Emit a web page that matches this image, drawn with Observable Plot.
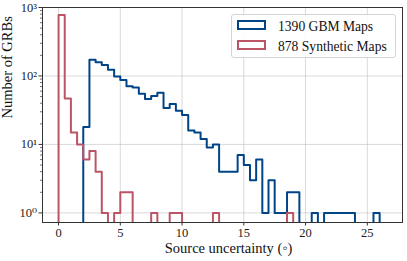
<!DOCTYPE html>
<html><head><meta charset="utf-8">
<script src="https://cdn.jsdelivr.net/npm/d3@7"></script>
<script src="https://cdn.jsdelivr.net/npm/@observablehq/plot@0.6"></script>
<style>
body{margin:0;background:#fff;}
#wrap{position:relative;width:407px;height:261px;font-family:"Liberation Serif","DejaVu Serif",serif;}
#wrap svg{position:absolute;left:0;top:0;}
.legend{position:absolute;left:231px;top:14px;width:165px;height:44px;border:1px solid #d4d4d4;border-radius:3px;background:rgba(255,255,255,0.85);box-sizing:border-box;}
.patch{position:absolute;width:29px;height:10px;box-sizing:border-box;border-width:2px;border-style:solid;}
.ltext{position:absolute;font-family:"Liberation Serif","DejaVu Serif",serif;font-size:13.6px;color:#111;white-space:nowrap;line-height:1;}
</style></head>
<body><div id="wrap"></div>
<script>
const binWidth = 0.5;
const gbmStart = 2.0;
const gbmCounts = [18, 172, 158, 144, 123, 98, 87, 71, 68, 55, 46, 51, 57, 34, 39, 31, 27, 16, 15, 12, 9, 10, 4, 4, 4, 7, 5, 3, 6, 1, 3, 1, 1, 2, 2, 0, 0, 1, 0, 1, 1, 1, 1, 1, 0, 0, 0, 1];
const synStart = 0.0;
const synCounts = [777, 47, 15, 10, 6, 8, 4, 1, 0, 1, 2, 2, 0, 0, 0, 1, 0, 0, 1, 1, 0, 0, 0, 0, 0, 1, 0, 0, 0, 0, 0, 0, 0, 0, 0, 0, 0, 1];
const seriesNames = ["1390 GBM Maps", "878 Synthetic Maps"];
const seriesColors = ["#004488", "#BB5566"];
const xTicks = [0, 5, 10, 15, 20, 25];
const yTicks = [1, 10, 100, 1000];
const yTickLabels = ["10⁰", "10¹", "10²", "10³"];
const xLabel = "Source uncertainty (◦)";
const yLabel = "Number of GRBs";

const FLOOR = 0.01;
function stepPoints(start, counts, name) {
  const pts = [{x: start, y: FLOOR, s: name}];
  counts.forEach((c, i) => pts.push({x: start + i * binWidth, y: c > 0 ? c : FLOOR, s: name}));
  const end = start + counts.length * binWidth;
  const last = counts[counts.length - 1];
  pts.push({x: end, y: last > 0 ? last : FLOOR, s: name});
  pts.push({x: end, y: FLOOR, s: name});
  return pts;
}
const gbm = stepPoints(gbmStart, gbmCounts, seriesNames[0]);
const syn = stepPoints(synStart, synCounts, seriesNames[1]);

const minor = [];
for (const d of [1, 10, 100]) for (let k = 2; k <= 9; k++) minor.push(d * k);

const chart = Plot.plot({
  width: 407, height: 261,
  marginLeft: 42, marginRight: 5, marginTop: 7, marginBottom: 39,
  style: {fontFamily: "'Liberation Serif', 'DejaVu Serif', serif", background: "transparent", color: "#222"},
  x: {domain: [-1.3, 27.85]},
  y: {type: "log", domain: [0.724, 1000]},
  marks: [
    Plot.gridX(xTicks, {stroke: "#b8b8b8", strokeOpacity: 0.6, strokeWidth: 0.9}),
    Plot.gridY(yTicks, {stroke: "#b8b8b8", strokeOpacity: 0.6, strokeWidth: 0.9}),
    Plot.line(gbm, {x: "x", y: "y", curve: "step-after", stroke: seriesColors[0], strokeWidth: 2, clip: true}),
    Plot.line(syn, {x: "x", y: "y", curve: "step-after", stroke: seriesColors[1], strokeWidth: 2, clip: true}),
    Plot.frame({stroke: "#333", strokeWidth: 1}),
    Plot.axisX(xTicks, {tickSize: 3.5, tickPadding: 2.5, fontSize: 12.5, label: null, stroke: "#333"}),
    Plot.axisY(yTicks, {tickSize: 3.5, tickPadding: 2, fontSize: 12.5, label: null, stroke: "#333", tickFormat: (d) => yTickLabels[yTicks.indexOf(d)]}),
    Plot.axisY(minor, {tickSize: 2, tickFormat: () => "", label: null, stroke: "#333", strokeWidth: 0.7}),
    Plot.text([xLabel], {text: d => d, frameAnchor: "bottom", dy: 30, dx: 6, fontSize: 14.5, fill: "#111"}),
    Plot.text([yLabel], {text: d => d, frameAnchor: "left", rotate: -90, dx: -35, dy: 3.5, fontSize: 14.5, fill: "#111"})
  ]
});
const wrap = document.getElementById("wrap");
wrap.appendChild(chart);

const legend = document.createElement("div");
legend.className = "legend";
wrap.appendChild(legend);
seriesNames.forEach((name, i) => {
  const p = document.createElement("div");
  p.className = "patch";
  p.style.left = "237px"; p.style.top = (20 + i * 20) + "px";
  p.style.borderColor = seriesColors[i];
  wrap.appendChild(p);
  const t = document.createElement("div");
  t.className = "ltext";
  t.style.left = "278px"; t.style.top = (19.5 + i * 20) + "px";
  t.textContent = name;
  wrap.appendChild(t);
});
</script>
</body></html>
